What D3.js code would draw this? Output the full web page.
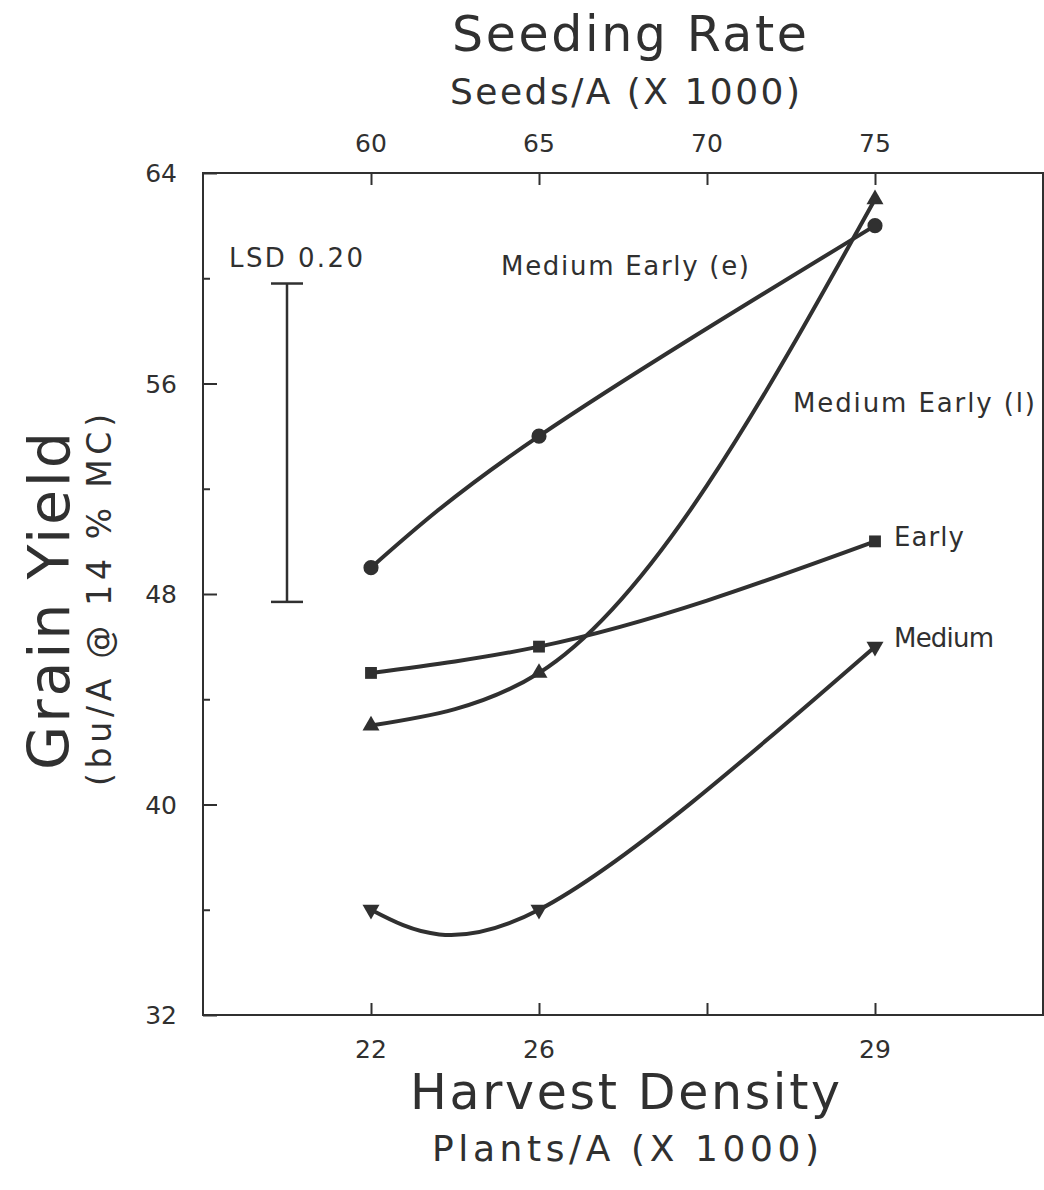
<!DOCTYPE html>
<html>
<head>
<meta charset="utf-8">
<script src="https://cdn.jsdelivr.net/npm/d3@7"></script>
<style>
  html, body { margin: 0; padding: 0; background: #ffffff; }
  svg { display: block; }
  text { font-family: "DejaVu Sans", "Liberation Sans", sans-serif; fill: #303030; }
</style>
</head>
<body>
<svg id="chart" width="1044" height="1190"></svg>
<script>
// ---- data ----
const seedingRate = [60, 65, 75];            // Seeds/A (X 1000)
const harvestDensity = [22, 26, 29];         // Plants/A (X 1000)
const topTicks = [60, 65, 70, 75];
const bottomTickLabels = ["22", "26", "", "29"];
const yMajorTicks = [32, 40, 48, 56, 64];
const yMinorTicks = [36, 44, 52, 60];
const mediumEarlyE = [49, 54, 62];
const mediumEarlyL = [43, 45, 63];
const early = [45, 46, 50];
const medium = [36, 36, 46];
const seriesNames = ["Medium Early (e)", "Medium Early (l)", "Early", "Medium"];
const lsdLabel = "LSD 0.20";
const lsdRange = [47.7, 59.8];

// ---- layout ----
const svg = d3.select("#chart");
const pLeft = 203, pRight = 1043, pTop = 173, pBottom = 1015;
const ink = "#303030";

const x = d3.scaleLinear().domain([55, 80]).range([pLeft, pRight]);
const y = d3.scaleLinear().domain([32, 64]).range([pBottom, pTop]);

// place a text so that it starts at (x0,y0) and spans `width` px (letter-spacing adjusted)
function spanText(parent, str, size, x0, y0, width, rotate) {
  const g = parent.append("g")
    .attr("transform", rotate ? `translate(${x0},${y0}) rotate(-90)` : `translate(${x0},${y0})`);
  const t = g.append("text").attr("x", 0).attr("y", 0).attr("font-size", size).text(str);
  const w = t.node().getComputedTextLength();
  const n = str.length;
  if (n > 1) t.attr("letter-spacing", (width - w) / (n - 1));
  return t;
}

// frame
svg.append("rect")
  .attr("x", pLeft).attr("y", pTop)
  .attr("width", pRight - pLeft).attr("height", pBottom - pTop)
  .attr("fill", "none").attr("stroke", ink).attr("stroke-width", 2);

// top axis (seeding rate), inward ticks
const topAxis = d3.axisBottom(x).tickValues(topTicks).tickSize(12).tickFormat(() => "");
svg.append("g").attr("transform", `translate(0,${pTop})`).call(topAxis)
  .call(g => g.select(".domain").remove())
  .call(g => g.selectAll("line").attr("stroke", ink).attr("stroke-width", 2));
svg.append("g").selectAll("text").data(topTicks).join("text")
  .attr("x", d => x(d)).attr("y", pTop - 21)
  .attr("text-anchor", "middle").attr("font-size", 25).text(d => d);

// bottom axis (harvest density), inward ticks
const bottomAxis = d3.axisTop(x).tickValues(topTicks).tickSize(12).tickFormat(() => "");
svg.append("g").attr("transform", `translate(0,${pBottom})`).call(bottomAxis)
  .call(g => g.select(".domain").remove())
  .call(g => g.selectAll("line").attr("stroke", ink).attr("stroke-width", 2));
svg.append("g").selectAll("text").data(topTicks).join("text")
  .attr("x", d => x(d)).attr("y", pBottom + 43)
  .attr("text-anchor", "middle").attr("font-size", 25)
  .text((d, i) => bottomTickLabels[i]);

// left axis
const leftAxis = d3.axisRight(y).tickValues(yMajorTicks).tickSize(14).tickFormat(() => "");
svg.append("g").attr("transform", `translate(${pLeft},0)`).call(leftAxis)
  .call(g => g.select(".domain").remove())
  .call(g => g.selectAll("line").attr("stroke", ink).attr("stroke-width", 2));
const leftMinor = d3.axisRight(y).tickValues(yMinorTicks).tickSize(7).tickFormat(() => "");
svg.append("g").attr("transform", `translate(${pLeft},0)`).call(leftMinor)
  .call(g => g.select(".domain").remove())
  .call(g => g.selectAll("line").attr("stroke", ink).attr("stroke-width", 2));
svg.append("g").selectAll("text").data(yMajorTicks).join("text")
  .attr("x", pLeft - 26).attr("y", d => y(d)).attr("dy", "0.36em")
  .attr("text-anchor", "end").attr("font-size", 25).text(d => d);

// titles
spanText(svg, "Seeding Rate", 49, 452, 51, 355);
spanText(svg, "Seeds/A (X 1000)", 36, 450, 104, 350);
spanText(svg, "Harvest Density", 49, 410, 1109, 430);
spanText(svg, "Plants/A (X 1000)", 36, 432, 1161, 387);
spanText(svg, "Grain Yield", 57, 69, 770, 338, true);
spanText(svg, "(bu/A @ 14 % MC)", 33, 111, 786, 372, true);

// LSD bar
const lsdX = x(57.5);
const lsd = svg.append("g").attr("stroke", ink).attr("stroke-width", 2.5);
lsd.append("line").attr("x1", lsdX).attr("x2", lsdX).attr("y1", y(lsdRange[0])).attr("y2", y(lsdRange[1]));
lsd.append("line").attr("x1", lsdX - 16).attr("x2", lsdX + 16).attr("y1", y(lsdRange[0])).attr("y2", y(lsdRange[0]));
lsd.append("line").attr("x1", lsdX - 16).attr("x2", lsdX + 16).attr("y1", y(lsdRange[1])).attr("y2", y(lsdRange[1]));
spanText(svg, lsdLabel, 26, 229, 267, 134);

// series
const series = [
  { name: seriesNames[0], values: mediumEarlyE, symbol: d3.symbolCircle, size: 180, rot: 0, curve: d3.curveNatural },
  { name: seriesNames[1], values: mediumEarlyL, symbol: d3.symbolTriangle, size: 125, rot: 0, curve: d3.curveMonotoneX },
  { name: seriesNames[2], values: early, symbol: d3.symbolSquare, size: 140, rot: 0, curve: d3.curveMonotoneX },
  { name: seriesNames[3], values: medium, symbol: d3.symbolTriangle, size: 125, rot: 180, curve: d3.curveNatural }
];

series.forEach(s => {
  const pts = seedingRate.map((r, i) => [r, s.values[i]]);
  const line = d3.line().x(d => x(d[0])).y(d => y(d[1])).curve(s.curve);
  svg.append("path").attr("d", line(pts))
    .attr("fill", "none").attr("stroke", ink).attr("stroke-width", 4)
    .attr("stroke-linejoin", "round").attr("stroke-linecap", "round");
  svg.append("g").selectAll("path").data(pts).join("path")
    .attr("d", d3.symbol().type(s.symbol).size(s.size))
    .attr("transform", d => `translate(${x(d[0])},${y(d[1])}) rotate(${s.rot})`)
    .attr("fill", ink);
});

// series labels
spanText(svg, seriesNames[0], 26, 501, 275, 248);
spanText(svg, seriesNames[1], 26, 793, 412, 242);
spanText(svg, seriesNames[2], 26, 894, 546, 70);
spanText(svg, seriesNames[3], 26, 894, 647, 100);
</script>
</body>
</html>
